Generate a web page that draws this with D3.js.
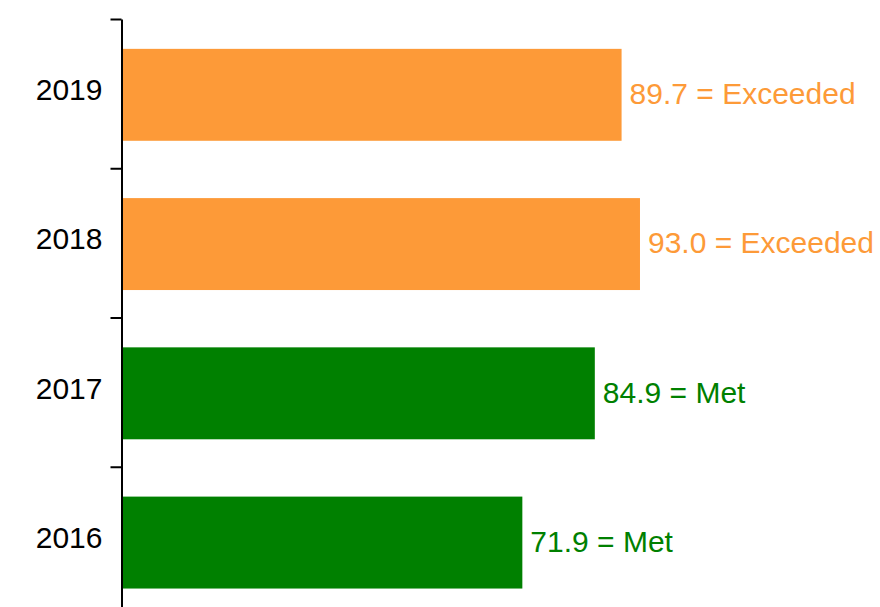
<!DOCTYPE html>
<html>
<head>
<meta charset="utf-8">
<script src="https://cdn.jsdelivr.net/npm/d3@7"></script>
<style>
  body { margin: 0; background: #fff; }
  text { font-family: "Liberation Sans", Arial, Helvetica, sans-serif; }
</style>
</head>
<body>
<div id="chart"></div>
<script>
const years = ["2019", "2018", "2017", "2016"];
const values = [89.7, 93.0, 84.9, 71.9];
const ratings = ["Exceeded", "Exceeded", "Met", "Met"];

const data = years.map((y, i) => ({year: y, value: values[i], rating: ratings[i]}));

const width = 880;
const height = 607;
const marginTop = 19;
const marginLeft = 121.5;
const bottom = 616;

const ratingColor = d3.scaleOrdinal()
    .domain(["Exceeded", "Met"])
    .range(["#fd9a38", "#008000"]);

const x = d3.scaleLinear()
    .domain([0, 100])
    .range([marginLeft, 679]);

const y = d3.scaleBand()
    .domain(years)
    .range([marginTop, bottom])
    .padding(0);

// boundary ticks between the years
const yEdge = d3.scaleLinear()
    .domain([0, years.length])
    .range([marginTop, bottom]);

const svg = d3.select("#chart").append("svg")
    .attr("width", width)
    .attr("height", height)
    .attr("viewBox", [0, 0, width, height]);

svg.append("g")
  .selectAll("rect")
  .data(data)
  .join("rect")
    .attr("x", x(0))
    .attr("y", d => y(d.year) + y.bandwidth() * 0.2)
    .attr("width", d => x(d.value) - x(0))
    .attr("height", y.bandwidth() * 0.616)
    .attr("fill", d => ratingColor(d.rating));

svg.append("g")
  .selectAll("text")
  .data(data)
  .join("text")
    .attr("x", d => x(d.value) + 8)
    .attr("y", d => y(d.year) + y.bandwidth() * 0.5)
    .attr("dy", "0.35em")
    .attr("font-size", 30)
    .attr("fill", d => ratingColor(d.rating))
    .text(d => `${d.value.toFixed(1)} = ${d.rating}`);

svg.append("g")
    .attr("transform", `translate(${marginLeft},0)`)
    .call(d3.axisLeft(yEdge).tickValues(d3.range(years.length)).tickFormat("").tickSize(11).tickSizeOuter(0))
    .call(g => g.selectAll("path, line").attr("stroke", "#000").attr("stroke-width", 2));

svg.append("g")
    .attr("transform", `translate(${marginLeft},-3)`)
    .call(d3.axisLeft(y).tickSize(0).tickPadding(19))
    .call(g => g.select(".domain").remove())
    .call(g => g.selectAll("text").attr("font-size", 30).attr("fill", "#000")
      .attr("font-family", "'Liberation Sans', Arial, Helvetica, sans-serif"));
</script>
</body>
</html>
